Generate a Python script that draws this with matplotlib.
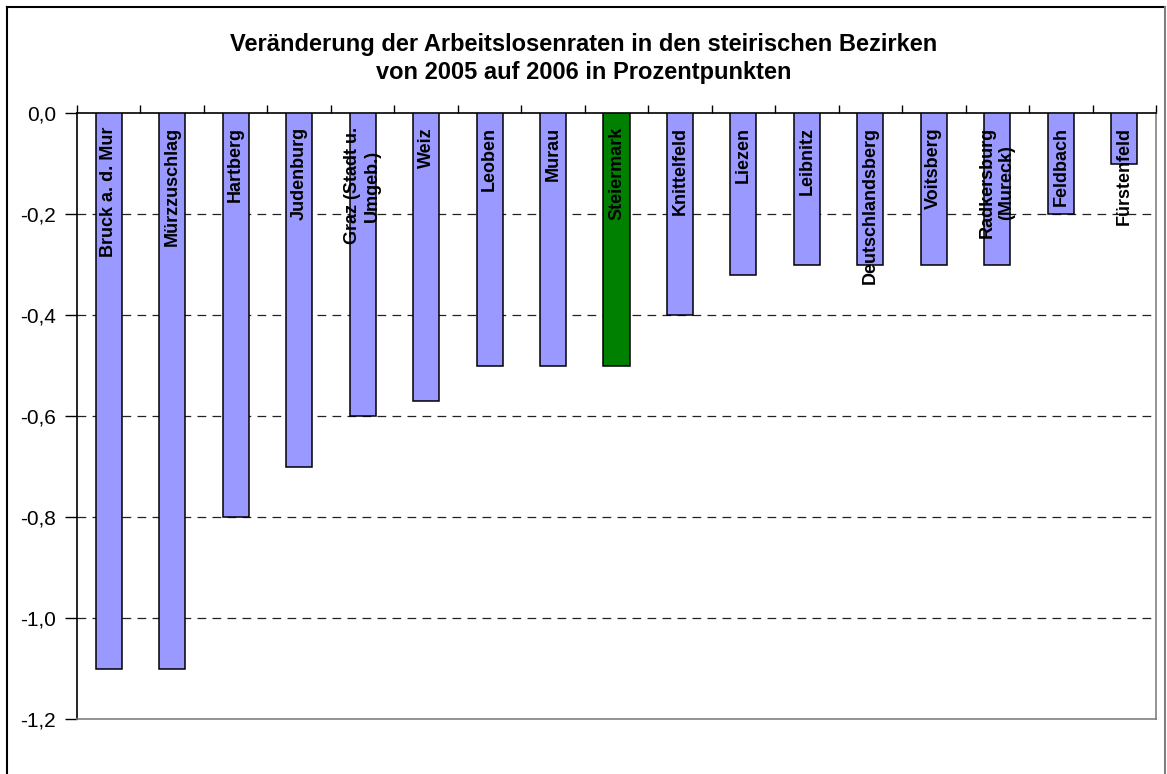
import numpy as np
import matplotlib
matplotlib.use("Agg")
import matplotlib.pyplot as plt
from matplotlib.lines import Line2D
from matplotlib.ticker import FuncFormatter

# data
bezirke = ["Bruck a. d. Mur", "Mürzzuschlag", "Hartberg", "Judenburg",
           "Graz (Stadt u.\nUmgeb.)", "Weiz", "Leoben", "Murau", "Steiermark",
           "Knittelfeld", "Liezen", "Leibnitz", "Deutschlandsberg", "Voitsberg",
           "Radkersburg\n(Mureck)", "Feldbach", "Fürstenfeld"]
veraenderung = [-1.1, -1.1, -0.8, -0.7, -0.6, -0.57, -0.5, -0.5, -0.5,
                -0.4, -0.32, -0.3, -0.3, -0.3, -0.3, -0.2, -0.1]
y_ticks = [0.0, -0.2, -0.4, -0.6, -0.8, -1.0, -1.2]

plt.rcParams['font.family'] = ['Liberation Sans', 'DejaVu Sans']

W, H = 1167, 774
fig = plt.figure(figsize=(W / 100, H / 100), dpi=100)
ax = fig.add_axes([77 / W, 1 - 719 / H, (1156 - 77) / W, (719 - 113) / H])

colors = ["#008000" if b == "Steiermark" else "#9999FF" for b in bezirke]
x = np.arange(len(bezirke))
ax.bar(x, veraenderung, width=0.41, color=colors, edgecolor="black", linewidth=1.1, zorder=3)

# labels inside bars, rotated
for i, name in enumerate(bezirke):
    ax.annotate(name, xy=(i, 0), xytext=(0, -10), textcoords="offset points",
                rotation=90, ha="center", va="top", multialignment="center",
                fontsize=13, fontweight="bold", zorder=4)

ax.set_xlim(-0.5, len(bezirke) - 0.5)
ax.set_ylim(-1.2, 0.0)
ax.set_yticks(y_ticks)
ax.yaxis.set_major_formatter(FuncFormatter(lambda v, p: f"{v:.1f}".replace(".", ",").replace("-0,0", "0,0")))
ax.tick_params(axis="y", labelsize=15, length=9, width=1, direction="out", pad=6)

# category axis at the top (value 0) with ticks between categories
ax.xaxis.tick_top()
ax.set_xticks(np.arange(-0.5, len(bezirke), 1.0))
ax.set_xticklabels([])
ax.tick_params(axis="x", length=6, width=1, direction="out")

for yv in y_ticks[1:-1]:
    ax.axhline(yv, color="#222222", linewidth=0.9, linestyle=(0, (7, 5)), zorder=1)

ax.spines["left"].set_color("black")
ax.spines["top"].set_color("black")
ax.spines["bottom"].set_color("#808080")
ax.spines["right"].set_color("#808080")
for s in ax.spines.values():
    s.set_linewidth(1.2)

# title
fig.text(0.5, 1 - 45 / H, "Veränderung der Arbeitslosenraten in den steirischen Bezirken",
         ha="center", va="center", fontsize=17, fontweight="bold")
fig.text(0.5, 1 - 73 / H, "von 2005 auf 2006 in Prozentpunkten",
         ha="center", va="center", fontsize=17, fontweight="bold")

# chart area border
fig.add_artist(Line2D([7 / W, 7 / W], [0, 1 - 7 / H], color="black", linewidth=1.5))
fig.add_artist(Line2D([7 / W, 1165 / W], [1 - 7 / H, 1 - 7 / H], color="black", linewidth=1.5))
fig.add_artist(Line2D([1165 / W, 1165 / W], [0, 1 - 7 / H], color="#808080", linewidth=1.5))

fig.savefig("out.png", dpi=100)
